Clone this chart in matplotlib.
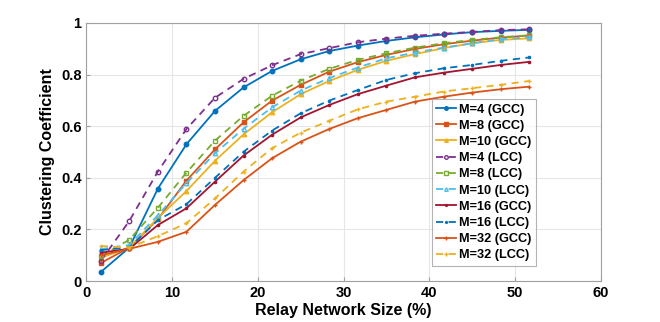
import matplotlib.pyplot as plt
import numpy as np

plt.rcParams['font.family'] = ['Liberation Sans', 'DejaVu Sans']

# relay network size (%)
sizes = [1.67, 5, 8.33, 11.67, 15, 18.33, 21.67, 25, 28.33, 31.67, 35, 38.33, 41.67, 45, 48.33, 51.67]

m4_gcc = [0.035, 0.13, 0.358, 0.53, 0.659, 0.75, 0.814, 0.859, 0.891, 0.912, 0.93, 0.944, 0.955, 0.964, 0.969, 0.973]
m8_gcc = [0.07, 0.13, 0.24, 0.389, 0.51, 0.615, 0.699, 0.76, 0.811, 0.848, 0.876, 0.899, 0.917, 0.931, 0.943, 0.951]
m10_gcc = [0.09, 0.13, 0.244, 0.349, 0.466, 0.568, 0.654, 0.724, 0.775, 0.818, 0.853, 0.879, 0.902, 0.921, 0.934, 0.94]
m4_lcc = [0.078, 0.233, 0.424, 0.589, 0.71, 0.783, 0.836, 0.879, 0.902, 0.925, 0.939, 0.95, 0.958, 0.965, 0.972, 0.975]
m8_lcc = [0.097, 0.16, 0.284, 0.42, 0.544, 0.64, 0.718, 0.776, 0.822, 0.857, 0.882, 0.904, 0.921, 0.934, 0.944, 0.952]
m10_lcc = [0.124, 0.14, 0.255, 0.379, 0.495, 0.59, 0.673, 0.738, 0.786, 0.827, 0.863, 0.885, 0.904, 0.921, 0.937, 0.944]
m16_gcc = [0.11, 0.125, 0.217, 0.282, 0.385, 0.486, 0.567, 0.634, 0.682, 0.724, 0.757, 0.789, 0.807, 0.822, 0.837, 0.849]
m16_lcc = [0.12, 0.13, 0.236, 0.298, 0.40, 0.501, 0.583, 0.65, 0.699, 0.74, 0.779, 0.805, 0.824, 0.837, 0.853, 0.866]
m32_gcc = [0.10, 0.125, 0.152, 0.191, 0.295, 0.391, 0.476, 0.54, 0.589, 0.631, 0.663, 0.695, 0.714, 0.73, 0.743, 0.753]
m32_lcc = [0.136, 0.13, 0.174, 0.224, 0.32, 0.424, 0.515, 0.575, 0.621, 0.665, 0.695, 0.714, 0.734, 0.747, 0.76, 0.775]

fig = plt.figure(figsize=(6.6, 3.22), dpi=100)
ax = fig.add_axes([0.131, 0.127, 0.779, 0.802])

# label, values, color, linestyle, marker, filled
series = [
    ('M=4 (GCC)', m4_gcc, '#0072BD', '-', 'o', True),
    ('M=8 (GCC)', m8_gcc, '#D95319', '-', 's', True),
    ('M=10 (GCC)', m10_gcc, '#EDB120', '-', '^', True),
    ('M=4 (LCC)', m4_lcc, '#7E2F8E', '--', 'o', False),
    ('M=8 (LCC)', m8_lcc, '#77AC30', '--', 's', False),
    ('M=10 (LCC)', m10_lcc, '#4DBEEE', '--', '^', False),
    ('M=16 (GCC)', m16_gcc, '#A2142F', '-', '.', True),
    ('M=16 (LCC)', m16_lcc, '#0072BD', '--', '.', True),
    ('M=32 (GCC)', m32_gcc, '#D95319', '-', '+', True),
    ('M=32 (LCC)', m32_lcc, '#EDB120', '--', '+', True),
]

for label, vals, c, ls, mk, filled in series:
    ax.plot(sizes, vals, color=c, linestyle=ls, marker=mk, markersize=3.2,
            markerfacecolor=c if filled else 'none', markeredgecolor=c,
            linewidth=1.3, label=label, dashes=(4, 3) if ls == '--' else (None, None))

ax.set_xlim(0, 60)
ax.set_ylim(0, 1)
ax.set_xticks([0, 10, 20, 30, 40, 50, 60])
ax.set_yticks([0, 0.2, 0.4, 0.6, 0.8, 1])
ax.set_yticklabels(['0', '0.2', '0.4', '0.6', '0.8', '1'])
ax.grid(True, color='#e6e6e6', linewidth=0.8)
ax.set_axisbelow(True)
for sp in ax.spines.values():
    sp.set_color('#a0a0a0')
ax.tick_params(direction='in', length=3, color='#a0a0a0', labelsize=10.5)
for t in ax.get_xticklabels() + ax.get_yticklabels():
    t.set_fontweight('bold')

ax.set_xlabel('Relay Network Size (%)', fontsize=11.5, fontweight='bold', labelpad=2)
ax.set_ylabel('Clustering Coefficient', fontsize=11.5, fontweight='bold', labelpad=4)

leg = ax.legend(loc='upper left', bbox_to_anchor=(0.672, 0.705),
                prop={'weight': 'bold', 'size': 9.2}, frameon=True, fancybox=False,
                handlelength=1.5, handletextpad=0.25, borderpad=0.35, labelspacing=0.33,
                borderaxespad=0, markerscale=0.8)
leg.get_frame().set_edgecolor('#a0a0a0')
leg.get_frame().set_linewidth(0.8)

fig.savefig('out.png', dpi=100)
